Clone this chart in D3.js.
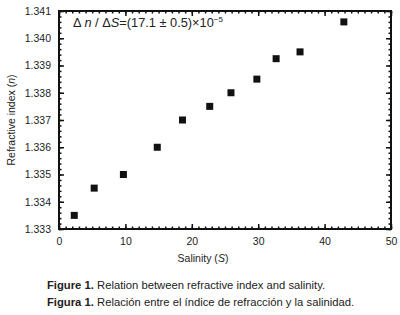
<!DOCTYPE html>
<html>
<head>
<meta charset="utf-8">
<script src="https://cdn.jsdelivr.net/npm/d3@7"></script>
<style>
  body { margin: 0; background: #fff; }
  svg text { font-family: "Liberation Sans", Arial, sans-serif; fill: #222; }
</style>
</head>
<body>
<div id="chart"></div>
<script>
// salinity vs refractive index
const salinity = [2.3, 5.3, 9.7, 14.8, 18.6, 22.7, 25.9, 29.8, 32.7, 36.3, 42.9];
const refIndex = [1.3335, 1.3345, 1.3350, 1.3360, 1.3370, 1.3375, 1.3380, 1.3385, 1.33925, 1.3395, 1.3406];
const xTicks = [0, 10, 20, 30, 40, 50];
const yTicks = [1.333, 1.334, 1.335, 1.336, 1.337, 1.338, 1.339, 1.340, 1.341];

const width = 400, height = 315;
const margin = { top: 11, right: 9, bottom: 86, left: 59 };

const svg = d3.select("#chart").append("svg")
    .attr("width", width)
    .attr("height", height);

const x = d3.scaleLinear().domain([0, 50]).range([margin.left, width - margin.right]);
const y = d3.scaleLinear().domain([1.333, 1.341]).range([height - margin.bottom, margin.top]);

const xMinor = d3.range(0, 51, 1);
const yMinor = d3.range(0, 41).map(i => 1.333 + i * 0.0002);

const yBottom = y(1.333), yTop = y(1.341);

// inward ticks on all four sides: minor first, then major
svg.append("g")
    .attr("transform", `translate(0,${yBottom})`)
    .call(d3.axisBottom(x).tickValues(xMinor).tickSize(-2.5).tickFormat(""))
    .call(g => g.select(".domain").remove());
svg.append("g")
    .attr("transform", `translate(0,${yBottom})`)
    .call(d3.axisBottom(x).tickValues(xTicks).tickSize(-5).tickPadding(9).tickFormat(d3.format("d")))
    .call(g => g.select(".domain").remove())
    .call(g => g.selectAll("text").attr("font-size", 10.5));

svg.append("g")
    .attr("transform", `translate(0,${yTop})`)
    .call(d3.axisTop(x).tickValues(xMinor).tickSize(-2.5).tickFormat(""))
    .call(g => g.select(".domain").remove());
svg.append("g")
    .attr("transform", `translate(0,${yTop})`)
    .call(d3.axisTop(x).tickValues(xTicks).tickSize(-5).tickFormat(""))
    .call(g => g.select(".domain").remove());

svg.append("g")
    .attr("transform", `translate(${x(0)},0)`)
    .call(d3.axisLeft(y).tickValues(yMinor).tickSize(-2.5).tickFormat(""))
    .call(g => g.select(".domain").remove());
svg.append("g")
    .attr("transform", `translate(${x(0)},0)`)
    .call(d3.axisLeft(y).tickValues(yTicks).tickSize(-5).tickPadding(8).tickFormat(d3.format(".3f")))
    .call(g => g.select(".domain").remove())
    .call(g => g.selectAll("text").attr("font-size", 10.5));

svg.append("g")
    .attr("transform", `translate(${x(50)},0)`)
    .call(d3.axisRight(y).tickValues(yMinor).tickSize(-2.5).tickFormat(""))
    .call(g => g.select(".domain").remove());
svg.append("g")
    .attr("transform", `translate(${x(50)},0)`)
    .call(d3.axisRight(y).tickValues(yTicks).tickSize(-5).tickFormat(""))
    .call(g => g.select(".domain").remove());

svg.selectAll(".tick line").attr("stroke", "#111").attr("stroke-width", 1.5);

// frame
svg.append("rect")
    .attr("x", x(0)).attr("y", yTop)
    .attr("width", x(50) - x(0)).attr("height", yBottom - yTop)
    .attr("fill", "none").attr("stroke", "#111").attr("stroke-width", 2);

// points
svg.append("g")
    .selectAll("rect")
    .data(salinity.map((s, i) => [s, refIndex[i]]))
    .enter()
    .append("rect")
    .attr("x", d => x(d[0]) - 3.5)
    .attr("y", d => y(d[1]) - 3.5)
    .attr("width", 7)
    .attr("height", 7)
    .attr("fill", "#111");

// annotation
const ann = svg.append("text")
    .attr("x", 73).attr("y", 27)
    .attr("font-size", 12.8);
ann.append("tspan").text("\u0394 ");
ann.append("tspan").attr("font-style", "italic").text("n");
ann.append("tspan").text(" / \u0394");
ann.append("tspan").attr("font-style", "italic").text("S");
ann.append("tspan").text("=(17.1 \u00b1 0.5)\u00d710");
ann.append("tspan").attr("font-size", 8).attr("dy", -5).text("\u22125");

// axis titles
const yl = svg.append("text")
    .attr("transform", `translate(15,${(yBottom + yTop) / 2}) rotate(-90)`)
    .attr("text-anchor", "middle")
    .attr("font-size", 10.5);
yl.append("tspan").text("Refractive index (");
yl.append("tspan").attr("font-style", "italic").text("n");
yl.append("tspan").text(")");

const xl = svg.append("text")
    .attr("x", (x(0) + x(50)) / 2 - 22).attr("y", 262)
    .attr("text-anchor", "middle")
    .attr("font-size", 10.5);
xl.append("tspan").text("Salinity (");
xl.append("tspan").attr("font-style", "italic").text("S");
xl.append("tspan").text(")");

// caption
const c1 = svg.append("text").attr("x", 47).attr("y", 289).attr("font-size", 11.25);
c1.append("tspan").attr("font-weight", "bold").text("Figure 1.");
c1.append("tspan").text(" Relation between refractive index and salinity.");
const c2 = svg.append("text").attr("x", 47).attr("y", 306).attr("font-size", 11.25);
c2.append("tspan").attr("font-weight", "bold").text("Figura 1.");
c2.append("tspan").text(" Relaci\u00f3n entre el \u00edndice de refracci\u00f3n y la salinidad.");
</script>
</body>
</html>
